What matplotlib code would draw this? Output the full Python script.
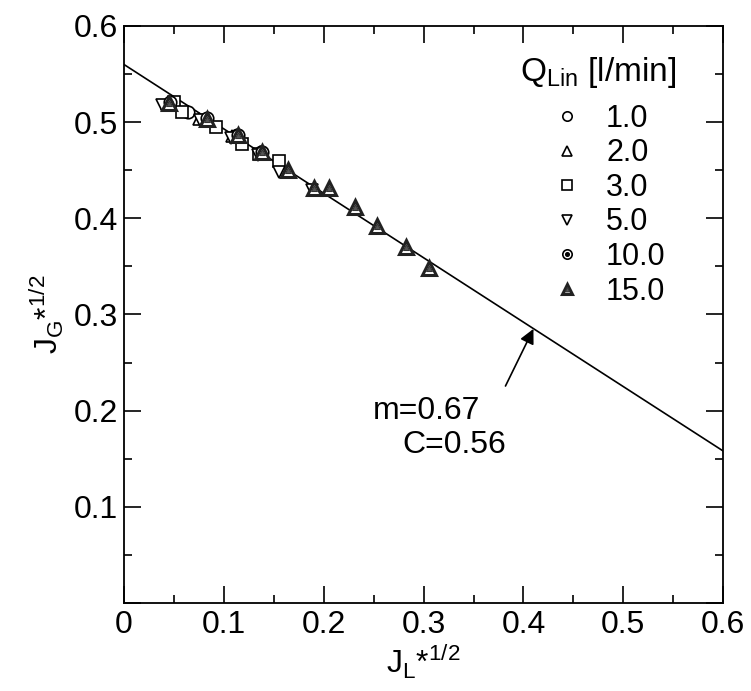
import matplotlib
matplotlib.use('Agg')
import matplotlib.pyplot as plt
from matplotlib.ticker import MultipleLocator, FuncFormatter
from matplotlib.legend_handler import HandlerTuple

plt.rcParams['font.family'] = ['Liberation Sans', 'DejaVu Sans']
plt.rcParams['mathtext.fontset'] = 'custom'
plt.rcParams['mathtext.rm'] = 'Liberation Sans'

# J_L*^1/2 (x) and J_G*^1/2 (y) for each liquid flow rate
q1_x = [0.047, 0.0645, 0.082, 0.113, 0.137]
q1_y = [0.519, 0.511, 0.503, 0.487, 0.469]

q2_x = [0.043, 0.075, 0.108, 0.136]
q2_y = [0.519, 0.503, 0.486, 0.469]

q3_x = [0.050, 0.058, 0.092, 0.118, 0.135, 0.155]
q3_y = [0.521, 0.511, 0.4945, 0.477, 0.467, 0.4595]

q5_x = [0.038, 0.076, 0.107, 0.134, 0.155, 0.1887]
q5_y = [0.518, 0.502, 0.484, 0.466, 0.448, 0.429]

q10_x = [0.046, 0.083, 0.114, 0.138]
q10_y = [0.521, 0.504, 0.487, 0.469]

q15_x = [0.0454, 0.0835, 0.114, 0.138, 0.1647, 0.190, 0.205, 0.2315, 0.253, 0.2826, 0.305]
q15_y = [0.520, 0.503, 0.4865, 0.4685, 0.450, 0.431, 0.431, 0.412, 0.392, 0.370, 0.348]

labels = ['1.0', '2.0', '3.0', '5.0', '10.0', '15.0']

# correlation J_G^1/2 + m J_L^1/2 = C
m = 0.67
C = 0.56
line_x = [0.0, 0.6]
line_y = [C - m * v for v in line_x]

fig = plt.figure(figsize=(7.51, 6.91), dpi=100)
ax = fig.add_axes([0.165, 0.1274, 0.798, 0.835])

ax.plot(line_x, line_y, color='k', lw=1.2, zorder=2)

ms = 9
h1, = ax.plot(q1_x, q1_y, 'o', ms=ms, mfc='white', mec='k', mew=1.2, ls='none', zorder=3)
h2, = ax.plot(q2_x, q2_y, '^', ms=ms, mfc='white', mec='k', mew=1.2, ls='none', zorder=3)
h3, = ax.plot(q3_x, q3_y, 's', ms=ms, mfc='white', mec='k', mew=1.2, ls='none', zorder=3)
h5, = ax.plot(q5_x, q5_y, 'v', ms=ms, mfc='white', mec='k', mew=1.2, ls='none', zorder=3)
h10a, = ax.plot(q10_x, q10_y, 'o', ms=ms, mfc='white', mec='k', mew=1.2, ls='none', zorder=4)
h10b, = ax.plot(q10_x, q10_y, 'o', ms=3.5, mfc='k', mec='k', ls='none', zorder=4)
h15a, = ax.plot(q15_x, q15_y, '^', ms=ms + 1, mfc='white', mec='#222222', mew=2.2, ls='none', zorder=5)
h15b, = ax.plot(q15_x, q15_y, '^', ms=4.5, mfc='#555555', mec='#333333', mew=0.8, ls='none', zorder=5)

ax.set_xlim(0, 0.6)
ax.set_ylim(0, 0.6)

ax.xaxis.set_major_locator(MultipleLocator(0.1))
ax.xaxis.set_minor_locator(MultipleLocator(0.05))
ax.yaxis.set_major_locator(MultipleLocator(0.1))
ax.yaxis.set_minor_locator(MultipleLocator(0.05))
ax.xaxis.set_major_formatter(FuncFormatter(lambda v, p: '%g' % round(v, 2)))
ax.yaxis.set_major_formatter(FuncFormatter(lambda v, p: '' if abs(v) < 1e-9 else '%g' % round(v, 2)))
ax.tick_params(which='both', direction='in', top=True, right=True, labelsize=23, width=1.2)
ax.tick_params(axis='x', pad=5)
ax.tick_params(axis='y', pad=4)
ax.tick_params(which='major', length=12)
ax.tick_params(which='minor', length=6)
for s in ax.spines.values():
    s.set_linewidth(1.3)

ax.set_xlabel(r'J$_\mathregular{L}$*$^\mathregular{1/2}$', fontsize=23, labelpad=2)
ax.set_ylabel(r'J$_\mathregular{G}$*$^\mathregular{1/2}$', fontsize=23, labelpad=6)

ax.annotate('', xy=(0.41, 0.285), xytext=(0.382, 0.2256),
            arrowprops=dict(arrowstyle='-|>', color='k', lw=1.2, mutation_scale=22,
                            shrinkA=0, shrinkB=0))
ax.text(0.2495, 0.1996, 'm=0.67', fontsize=23, va='center', ha='left')
ax.text(0.2786, 0.164, 'C=0.56', fontsize=23, va='center', ha='left')

ax.text(0.661, 0.920, r'Q$_\mathregular{Lin}$ [l/min]', transform=ax.transAxes,
        fontsize=24, va='center', ha='left')
handles = [h1, h2, h3, h5, (h10a, h10b), (h15a, h15b)]
ax.legend(handles, labels, loc='upper left', bbox_to_anchor=(0.705, 0.876),
          frameon=False, fontsize=22, markerscale=0.75, handlelength=0.95,
          handletextpad=0.8, labelspacing=0.15, borderpad=0.2, borderaxespad=0,
          handler_map={tuple: HandlerTuple(ndivide=1)})

fig.savefig('out.png', dpi=100)
